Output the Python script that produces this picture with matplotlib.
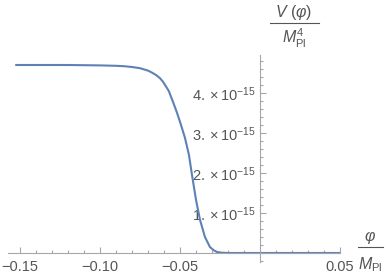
import matplotlib
matplotlib.use("Agg")
import matplotlib.pyplot as plt
from matplotlib.lines import Line2D
from matplotlib.ticker import MultipleLocator

plt.rcParams['font.family'] = ['Liberation Sans', 'DejaVu Sans']
plt.rcParams['mathtext.fontset'] = 'custom'
plt.rcParams['mathtext.rm'] = 'Liberation Sans'
plt.rcParams['mathtext.it'] = 'Liberation Sans:italic'

COLORS = {
    'line': '#5e81b5',
    'axis': '#a6a6a6',
    'text': '#555555',
}

# field value phi / M_Pl
phi = [-0.153, -0.12, -0.10, -0.09, -0.085, -0.08, -0.075, -0.0725, -0.07,
       -0.0675, -0.065, -0.0625, -0.0606, -0.057, -0.0544, -0.052, -0.05,
       -0.0469, -0.0444, -0.0425, -0.04, -0.0375, -0.0344, -0.0313, -0.029,
       -0.0269, -0.024, -0.02, 0.0, 0.05]
# potential V / M_Pl^4 in units of 1e-15
V = [4.70, 4.70, 4.69, 4.68, 4.67, 4.65, 4.62, 4.59, 4.56,
     4.51, 4.45, 4.37, 4.28, 4.05, 3.78, 3.52, 3.28,
     2.88, 2.45, 1.95, 1.33, 0.83, 0.40, 0.15, 0.07,
     0.025, 0.008, 0.0, 0.0, 0.0]

xticks = [-0.15, -0.10, -0.05, 0.05]
xticklabels = ['\u22120.15', '\u22120.10', '\u22120.05', '0.05']
yticks = [1, 2, 3, 4]
yticklabels = [r'$%d.\times10^{-15}$' % v for v in yticks]

W, H = 386, 278
fig = plt.figure(figsize=(W / 100, H / 100), dpi=100)
ax = fig.add_axes([8 / W, (H - 262) / H, 332 / W, 207 / H])

ax.plot(phi, V, color=COLORS['line'], linewidth=1.5, solid_capstyle='butt')
ax.set_xlim(-0.1575, 0.05)
ax.set_ylim(-0.225, 4.95)

for s in ['top', 'right']:
    ax.spines[s].set_visible(False)
ax.spines['left'].set_position(('data', 0))
ax.spines['bottom'].set_position(('data', 0))
for s in ['left', 'bottom']:
    ax.spines[s].set_color(COLORS['axis'])
    ax.spines[s].set_linewidth(0.8)

ax.set_xticks(xticks)
ax.set_xticklabels(xticklabels)
ax.set_yticks(yticks)
ax.set_yticklabels(yticklabels)
ax.xaxis.set_minor_locator(MultipleLocator(0.01))
ax.yaxis.set_minor_locator(MultipleLocator(0.2))
ax.tick_params(which='both', direction='in', color=COLORS['axis'],
               labelcolor=COLORS['text'], width=0.8)
ax.tick_params(which='major', length=4)
ax.tick_params(which='minor', length=2)
ax.tick_params(axis='x', pad=5, labelsize=10.5)
ax.tick_params(axis='y', pad=3, labelsize=10.5)
ax.patch.set_alpha(0)

# axis labels as fractions
fig.text(294 / W, 1 - 13 / H, r'$V\ (\varphi)$', ha='center', va='center',
         fontsize=11.5, color=COLORS['text'])
fig.add_artist(Line2D([270 / W, 319 / W], [1 - 23 / H, 1 - 23 / H],
                      color=COLORS['text'], linewidth=0.8))
fig.text(294 / W, 1 - 38 / H, r'$M_{\mathrm{Pl}}^{4}$', ha='center', va='center',
         fontsize=11.5, color=COLORS['text'])

fig.text(370 / W, 1 - 238 / H, r'$\varphi$', ha='center', va='center',
         fontsize=11.5, color=COLORS['text'])
fig.add_artist(Line2D([358 / W, 383 / W], [1 - 247 / H, 1 - 247 / H],
                      color=COLORS['text'], linewidth=0.8))
fig.text(370 / W, 1 - 265 / H, r'$M_{\mathrm{Pl}}$', ha='center', va='center',
         fontsize=11.5, color=COLORS['text'])

fig.savefig('out.png', dpi=100, facecolor='white')
